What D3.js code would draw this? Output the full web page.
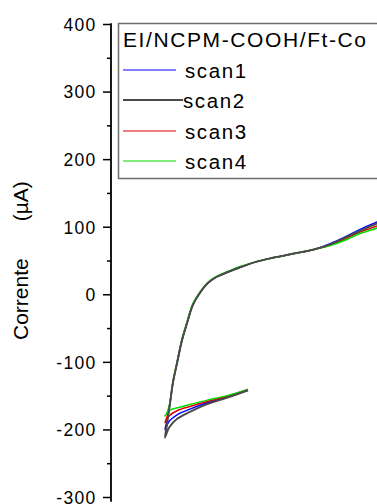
<!DOCTYPE html>
<html>
<head>
<meta charset="utf-8">
<script src="https://cdn.jsdelivr.net/npm/d3@7/dist/d3.min.js"></script>
<style>
  html, body { margin: 0; padding: 0; background: #fff; }
  svg { display: block; }
  text { font-family: "Liberation Sans", Arial, sans-serif; fill: #000; }
</style>
</head>
<body>
<svg id="chart" width="377" height="504"></svg>
<script>
// Cyclic voltammetry, EI/NCPM-COOH/Ft-Co electrode, four scans.
// Reverse sweep (0.00 V down to the vertex), then forward sweep.
const potentialRev = [0.00, -0.05, -0.10, -0.14, -0.17, -0.19, -0.20];
const potentialFwd = [-0.195, -0.188, -0.181, -0.171, -0.159, -0.147, -0.133, -0.116,
  -0.096, -0.075, -0.048, -0.019, 0.019, 0.060, 0.108, 0.157, 0.198, 0.234, 0.270, 0.311, 0.33];

// Current (µA)
const scan1Rev = [-142, -152, -161, -170, -178, -188, -200];
const scan1Fwd = [-187, -161, -131, -102, -68, -43, -16, 2, 17, 26, 33, 40, 48, 54, 60, 66, 75, 85, 96, 107, 112];
const scan2Rev = [-142, -153, -163, -174, -184, -197, -212];
const scan2Fwd = [-192, -162, -131, -102, -68, -43, -16, 2, 17, 26, 33, 40, 48, 54, 60, 66, 74, 84, 94, 105, 110];
const scan3Rev = [-141, -151, -159, -166, -172, -180, -190];
const scan3Fwd = [-181, -161, -131, -101, -67, -42, -15, 2, 17, 26, 33, 40, 48, 54, 60, 66, 73, 82, 92, 101, 106];
const scan4Rev = [-141, -150, -157, -163, -168, -172, -180];
const scan4Fwd = [-175, -160, -130, -100, -66, -41, -14, 3, 18, 27, 34, 41, 48, 54, 60, 66, 72, 80, 90, 98, 103];

const seriesNames = ["scan1", "scan2", "scan3", "scan4"];
const seriesColors = ["#0000ff", "#4a4a4a", "#e00000", "#00dd00"];
const legendTitle = "EI/NCPM-COOH/Ft-Co";
const yTicks = [-300, -200, -100, 0, 100, 200, 300, 400];
const yMinorTicks = [-250, -150, -50, 50, 150, 250, 350];
const yLabel = "Corrente";
const yUnit = "(µA)";

const svg = d3.select("#chart");
svg.append("rect").attr("width", 377).attr("height", 504).attr("fill", "#fff");

const x = d3.scaleLinear().domain([-0.35, 0.5]).range([102.75, 455.5]);
const y = d3.scaleLinear().domain([-300, 400]).range([497, 24]);
const axisX = 111;

// Curves
const rev = [scan1Rev, scan2Rev, scan3Rev, scan4Rev];
const fwd = [scan1Fwd, scan2Fwd, scan3Fwd, scan4Fwd];
const series = seriesNames.map((name, i) => ({
  name, color: seriesColors[i],
  points: potentialRev.map((e, j) => [e, rev[i][j]])
    .concat(potentialFwd.map((e, j) => [e, fwd[i][j]]))
}));

const line = d3.line().x(d => x(d[0])).y(d => y(d[1])).curve(d3.curveCatmullRom.alpha(0.5));
const drawOrder = [0, 2, 3, 1];
svg.append("g").selectAll("path")
  .data(drawOrder.map(i => series[i]))
  .join("path")
  .attr("d", d => line(d.points))
  .attr("fill", "none")
  .attr("stroke", d => d.color)
  .attr("stroke-width", d => d.name === "scan2" ? 1.9 : 1.5)
  .attr("stroke-linejoin", "round");

// Y axis: major ticks with labels, minor ticks between
const yAxis = svg.append("g").attr("transform", `translate(${axisX},0)`)
  .call(d3.axisLeft(y).tickValues(yTicks).tickSize(8).tickSizeOuter(0)
    .tickPadding(6.5).tickFormat(d => String(d)));
yAxis.select(".domain").remove();
yAxis.selectAll(".tick line").attr("stroke", "#000").attr("stroke-width", 1.5);
yAxis.selectAll(".tick text")
  .style("font-size", "17.5px")
  .style("letter-spacing", "1.3px")
  .attr("font-family", null)
  .attr("dy", "0.36em");

const yMinor = svg.append("g").attr("transform", `translate(${axisX},0)`)
  .call(d3.axisLeft(y).tickValues(yMinorTicks).tickSize(4).tickFormat(""));
yMinor.select(".domain").remove();
yMinor.selectAll(".tick line").attr("stroke", "#000").attr("stroke-width", 1.5);

svg.append("line")
  .attr("x1", axisX).attr("x2", axisX)
  .attr("y1", y(400) - 0.75).attr("y2", y(-307))
  .attr("stroke", "#000").attr("stroke-width", 1.8);

// Y axis title
const yt = svg.append("text")
  .attr("transform", `translate(28,340) rotate(-90)`)
  .style("font-size", "21px")
  .attr("text-anchor", "start");
yt.append("tspan").text(yLabel);
yt.append("tspan").attr("dx", 37).text(yUnit);

// Legend
const lg = svg.append("g");
lg.append("rect")
  .attr("x", 118.5).attr("y", 23.5).attr("width", 300).attr("height", 155)
  .attr("fill", "#fff").attr("stroke", "#6e6e6e").attr("stroke-width", 1.5);
lg.append("text").attr("x", 123).attr("y", 47)
  .style("font-size", "21px").style("letter-spacing", "1.6px")
  .text(legendTitle);

const legendRows = [70, 100, 131, 161];
series.forEach((s, i) => {
  const yy = legendRows[i];
  const isDark = s.name === "scan2";
  lg.append("line")
    .attr("x1", 123).attr("x2", isDark ? 183 : 176)
    .attr("y1", yy).attr("y2", yy)
    .attr("stroke", s.color).attr("stroke-width", isDark ? 2 : 1.2);
  lg.append("text")
    .attr("x", isDark ? 183 : 185).attr("y", yy + 8)
    .style("font-size", "20.5px").style("letter-spacing", "1.6px")
    .text(s.name);
});
</script>
</body>
</html>
